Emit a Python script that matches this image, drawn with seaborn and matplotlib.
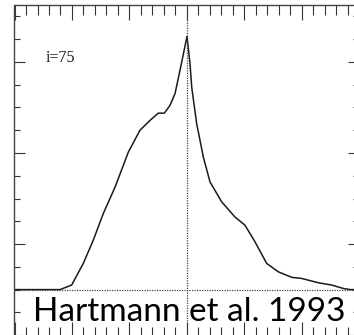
import matplotlib
matplotlib.use("Agg")
import matplotlib.pyplot as plt
from matplotlib.ticker import MultipleLocator
import pandas as pd
import seaborn as sns

# Line profile, i = 75 (velocity offset vs. flux, arbitrary units)
velocity = [-15.0, -11.04, -10.03, -9.02, -8.15, -7.28, -6.76, -6.25,
            -5.10, -4.09, -3.22, -2.50, -1.97, -1.48, -1.04, -0.61, 0.0,
            0.26, 0.41, 0.84, 1.13, 1.42, 2.0, 3.02, 4.17, 5.04, 5.91,
            6.93, 7.94, 9.10, 9.97, 11.42, 12.58, 13.59, 14.2, 15.0]
flux = [0.0, 0.0, 0.20, 1.15, 2.17, 3.34, 3.93, 4.51,
        6.04, 7.00, 7.43, 7.75, 7.75, 8.09, 8.61, 9.63, 11.12,
        9.93, 8.89, 7.29, 6.56, 5.82, 4.73, 3.85, 3.19, 2.83, 2.10,
        1.15, 0.78, 0.54, 0.49, 0.30, 0.20, 0.05, 0.0, 0.0]
panel_label = "i=75"
citation = "Hartmann et al. 1993"

df = pd.DataFrame({"velocity": velocity, "flux": flux})

sns.set_style("white")
fig = plt.figure(figsize=(3.54, 3.35), dpi=100)
ax = fig.add_axes([14.5 / 354, -1.5 / 335, 345 / 354, 331.5 / 335])

sns.lineplot(data=df, x="velocity", y="flux", ax=ax, color="#1a1a1a",
             linewidth=1.1, sort=False, estimator=None)

ax.axvline(0, color="#444444", linestyle=(0, (1, 1)), linewidth=0.9)
ax.axhline(0, color="#444444", linestyle=(0, (1, 1)), linewidth=0.9)

ax.set_xlim(-15, 15)
ax.set_ylim(-2.06, 12.5)
ax.xaxis.set_major_locator(MultipleLocator(5))
ax.xaxis.set_minor_locator(MultipleLocator(1))
ax.yaxis.set_major_locator(MultipleLocator(4, offset=2))
ax.yaxis.set_minor_locator(MultipleLocator(1))
ax.tick_params(axis="both", which="both", direction="in", top=True,
               bottom=True, left=True, right=True, labelbottom=False,
               labelleft=False, colors="#333333", width=0.8)
ax.tick_params(axis="x", which="major", length=11)
ax.tick_params(axis="x", which="minor", length=7)
ax.tick_params(axis="y", which="major", length=8)
ax.tick_params(axis="y", which="minor", length=4)
ax.set_xlabel("")
ax.set_ylabel("")
for s in ax.spines.values():
    s.set_color("#444444")
    s.set_linewidth(1.0)

ax.text(-12.3, 10.18, panel_label, family="Liberation Serif", fontsize=11.5,
        va="center", ha="left", color="#1a1a1a")
ax.text(-13.4, -1.4, citation, family="Lato", fontsize=24,
        va="baseline", ha="left", color="black")

fig.savefig("out.png", dpi=100)
